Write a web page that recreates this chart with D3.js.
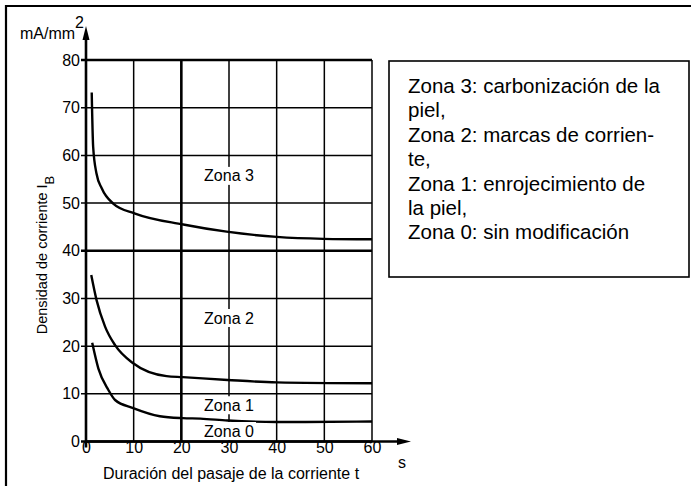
<!DOCTYPE html>
<html>
<head>
<meta charset="utf-8">
<style>
  body { margin: 0; background: #fff; }
  svg { display: block; font-family: "Liberation Sans", Arial, sans-serif; }
  .grid line { stroke: #000; }
  .tick text { font-size: 16px; fill: #000; }
</style>
</head>
<body>
<svg width="691" height="486"></svg>
<script src="https://d3js.org/d3.v7.min.js"></script>
<script>
// data
let xTicks = [0, 10, 20, 30, 40, 50, 60];
let yTicks = [0, 10, 20, 30, 40, 50, 60, 70, 80];
let boldX = [0, 20];
let boldY = [0, 40, 80];

let zone3 = [[1.2, 73.2], [1.5, 61.8], [2.2, 56.2], [3.3, 53.1], [5.7, 49.9], [10.3, 47.8],
             [20.4, 45.5], [29.5, 44.0], [40, 42.9], [49.8, 42.5], [60, 42.4]];
let zone2 = [[1.1, 34.9], [2.2, 29.7], [4, 24.1], [6.1, 20.2], [9.9, 16.4], [16.9, 13.7],
             [20.3, 13.5], [29.7, 12.9], [40, 12.4], [60, 12.2]];
let zone1 = [[1.3, 20.7], [2.6, 15.3], [4.7, 10.8], [6.1, 8.7], [9.9, 7.0], [15.5, 5.3],
             [20.3, 4.9], [24, 4.8], [29.7, 4.4], [40, 4.1], [46, 4.1], [60, 4.2]];

let zoneLabels = [["Zona 3", 55.7], ["Zona 2", 25.9], ["Zona 1", 7.6], ["Zona 0", 2.2]];

let legendLines = [
  "Zona 3: carbonización de la",
  "piel,",
  "Zona 2: marcas de corrien-",
  "te,",
  "Zona 1: enrojecimiento de",
  "la piel,",
  "Zona 0: sin modificación"
];

let margin = { top: 60, right: 319, bottom: 44.5, left: 86 };
let width = 691, height = 486;

let svg = d3.select("svg");

let x = d3.scaleLinear().domain([0, 60]).range([margin.left, width - margin.right]);
let y = d3.scaleLinear().domain([0, 80]).range([height - margin.bottom, margin.top]);

// outer frame (right and bottom edges fall outside the picture)
svg.append("path")
  .attr("d", "M6,486 V6 H691")
  .style("fill", "none").style("stroke", "#000").style("stroke-width", 2.2);

// grid
let grid = svg.append("g").attr("class", "grid");
grid.selectAll(".h").data(yTicks).join("line")
  .attr("x1", x(0) - 5).attr("x2", x(60))
  .attr("y1", d => y(d)).attr("y2", d => y(d))
  .style("stroke-width", d => boldY.includes(d) ? 2.6 : 1.5);
grid.selectAll(".v").data(xTicks.filter(d => d > 0)).join("line")
  .attr("x1", d => x(d)).attr("x2", d => x(d))
  .attr("y1", y(0)).attr("y2", y(80))
  .style("stroke-width", d => boldX.includes(d) ? 2.6 : 1.5);

// axes with arrows
svg.append("line")
  .attr("x1", x(0)).attr("x2", x(0)).attr("y1", y(0) + 6).attr("y2", 36)
  .style("stroke", "#000").style("stroke-width", 2.6);
svg.append("path")
  .attr("d", `M${x(0)},26 L${x(0) - 3.5},40 L${x(0) + 3.5},40 Z`)
  .style("fill", "#000");
svg.append("line")
  .attr("x1", x(0)).attr("x2", 400).attr("y1", y(0)).attr("y2", y(0))
  .style("stroke", "#000").style("stroke-width", 2.6);
svg.append("path")
  .attr("d", `M411,${y(0)} L397,${y(0) - 3.5} L397,${y(0) + 3.5} Z`)
  .style("fill", "#000");

// tick labels
let yAxis = svg.append("g")
  .attr("transform", `translate(${x(0)},0)`)
  .call(d3.axisLeft(y).tickValues(yTicks).tickSize(0).tickPadding(6));
yAxis.select(".domain").remove();

let xAxis = svg.append("g")
  .attr("transform", `translate(0,${y(0)})`)
  .call(d3.axisBottom(x).tickValues(xTicks).tickSize(0).tickPadding(0));
xAxis.select(".domain").remove();

// curves
let line = d3.line()
  .x(d => x(d[0]))
  .y(d => y(d[1]))
  .curve(d3.curveMonotoneX);

svg.append("g").selectAll("path").data([zone3, zone2, zone1]).join("path")
  .attr("d", line)
  .style("fill", "none").style("stroke", "#000").style("stroke-width", 2.4);

// zone labels, with white behind so the grid line breaks
let zl = svg.append("g").selectAll("g").data(zoneLabels).join("g")
  .attr("transform", d => `translate(${x(30)},${y(d[1])})`);
zl.append("rect")
  .attr("x", -27).attr("y", -9).attr("width", 54).attr("height", 18)
  .style("fill", "#fff");
zl.append("text")
  .attr("text-anchor", "middle").attr("dy", "0.35em")
  .style("font-size", "16px")
  .text(d => d[0]);

// axis titles
let yTitle = svg.append("text")
  .attr("transform", "translate(47,255) rotate(-90)")
  .attr("text-anchor", "middle")
  .style("font-size", "14.5px");
yTitle.append("tspan").text("Densidad de corriente I");
yTitle.append("tspan").attr("dy", 7).style("font-size", "13px").text("B");

svg.append("text")
  .attr("x", 231).attr("y", 479)
  .attr("text-anchor", "middle")
  .style("font-size", "16px")
  .text("Duración del pasaje de la corriente t");

svg.append("text")
  .attr("x", 402).attr("y", 468)
  .attr("text-anchor", "middle")
  .style("font-size", "16px")
  .text("s");

let unit = svg.append("text")
  .attr("x", 20).attr("y", 39)
  .style("font-size", "16px");
unit.append("tspan").text("mA/mm");
unit.append("tspan").attr("dy", -11).style("font-size", "16px").text("2");

// legend box
svg.append("rect")
  .attr("x", 389).attr("y", 61).attr("width", 300).attr("height", 216)
  .style("fill", "none").style("stroke", "#000").style("stroke-width", 1.6);

svg.append("g").selectAll("text").data(legendLines).join("text")
  .attr("x", 408)
  .attr("y", (d, i) => 93 + i * 24.4)
  .style("font-size", "20.5px")
  .text(d => d);
</script>
</body>
</html>
